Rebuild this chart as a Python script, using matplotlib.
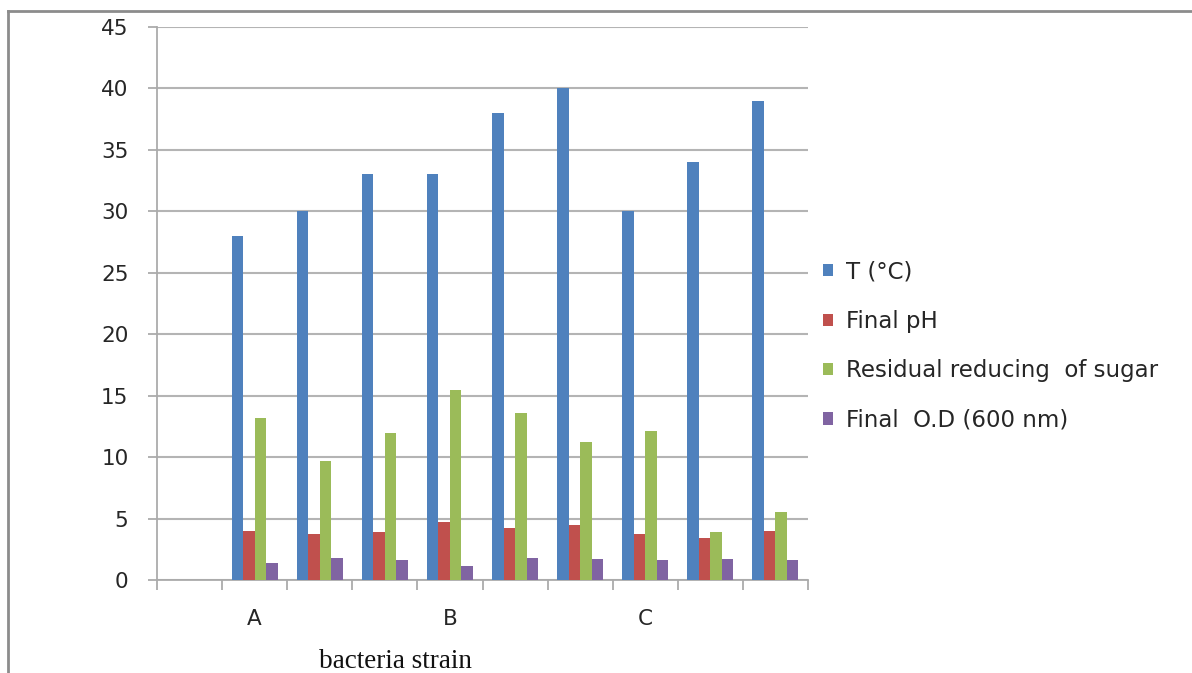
import numpy as np
import matplotlib
matplotlib.use("Agg")
import matplotlib.pyplot as plt
from matplotlib.lines import Line2D

# strain slots (first slot has no measurements)
strain_labels = ["", "A", "", "", "B", "", "", "C", "", ""]
temp_c = [np.nan, 28, 30, 33, 33, 38, 40, 30, 34, 39]
final_ph = [np.nan, 4.0, 3.75, 3.9, 4.7, 4.2, 4.5, 3.75, 3.45, 4.0]
residual_sugar = [np.nan, 13.2, 9.7, 12.0, 15.5, 13.6, 11.2, 12.1, 3.9, 5.5]
final_od = [np.nan, 1.4, 1.8, 1.6, 1.15, 1.75, 1.7, 1.6, 1.7, 1.6]

series = [
    ("T (°C)", temp_c, "#4F81BD"),
    ("Final pH", final_ph, "#C0504D"),
    ("Residual reducing  of sugar", residual_sugar, "#9BBB59"),
    ("Final  O.D (600 nm)", final_od, "#8064A2"),
]

plt.rcParams["font.family"] = ["DejaVu Sans"]
text_color = "#262626"
axis_gray = "#ABABAB"

fig = plt.figure(figsize=(11.92, 6.73), dpi=100)
ax = fig.add_axes([157 / 1192, 1 - 580 / 673, 651 / 1192, 553 / 673])

x = np.arange(len(strain_labels))
w = 0.177
for i, (name, vals, color) in enumerate(series):
    ax.bar(x + (i - 1.5) * w, vals, width=w, color=color, label=name, zorder=3)

ax.set_xlim(-0.5, len(strain_labels) - 0.5)
ax.set_ylim(0, 45)
ax.set_yticks(np.arange(0, 46, 5))
ax.yaxis.grid(True, color="#B4B4B4", linewidth=1.5, zorder=0)
ax.set_axisbelow(True)

# category boundaries get tick marks, names sit in the middle
ax.set_xticks(np.arange(-0.5, len(strain_labels)), labels=[""] * (len(strain_labels) + 1))
ax.set_xticks(x, labels=strain_labels, minor=True)
ax.tick_params(axis="x", which="major", direction="out", length=7, width=1.3, color=axis_gray)
ax.tick_params(axis="x", which="minor", length=0, pad=21, labelsize=15.5, labelcolor=text_color)
ax.tick_params(axis="y", direction="out", length=6.5, width=1.3, color=axis_gray,
               pad=14, labelsize=15.5, labelcolor=text_color)

for side in ["top", "right"]:
    ax.spines[side].set_visible(False)
for side in ["left", "bottom"]:
    ax.spines[side].set_color(axis_gray)
    ax.spines[side].set_linewidth(1.3)

ax.legend(loc="center left", bbox_to_anchor=(823 / 1192, 1 - 346 / 673),
          bbox_transform=fig.transFigure, frameon=False, fontsize=16.5,
          handlelength=0.45, handleheight=0.45, handletextpad=0.55,
          labelspacing=1.15, borderpad=0, borderaxespad=0, labelcolor=text_color)

fig.text(395 / 1192, 1 - 668 / 673, "bacteria strain", family="Liberation Serif",
         fontsize=19.5, ha="center", va="baseline", color="#111111")

# frame lines along the top and left of the figure
fig.add_artist(Line2D([8 / 1192, 1], [1 - 11 / 673, 1 - 11 / 673],
                      transform=fig.transFigure, color="#8C8C8C", linewidth=2))
fig.add_artist(Line2D([8 / 1192, 8 / 1192], [0, 1 - 11 / 673],
                      transform=fig.transFigure, color="#8C8C8C", linewidth=2))

fig.savefig("out.png", dpi=100)
